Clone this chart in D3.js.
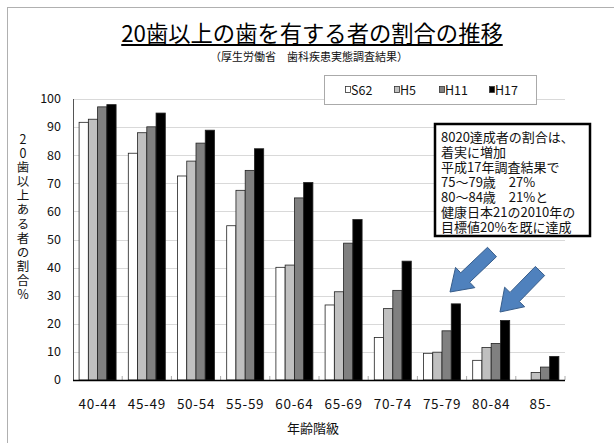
<!DOCTYPE html>
<html><head><meta charset="utf-8">
<script src="https://cdn.jsdelivr.net/npm/d3@7"></script>
<style>
body{margin:0;background:#fff;}
svg{display:block;font-family:"Noto Sans CJK JP","Noto Sans",sans-serif;}
</style></head>
<body><svg id="c" width="614" height="443"></svg>
<script>
const categories = ["40-44","45-49","50-54","55-59","60-64","65-69","70-74","75-79","80-84","85-"];
const seriesNames = ["S62","H5","H11","H17"];
const seriesColors = ["#ffffff","#c0c0c0","#808080","#000000"];
const S62 = [91.7, 80.7, 72.6, 54.9, 40.1, 26.7, 15.1, 9.5, 7.0, null];
const H5  = [92.8, 88.0, 77.9, 67.5, 40.9, 31.4, 25.4, 9.9, 11.6, 2.7];
const H11 = [97.2, 90.1, 84.3, 74.6, 64.8, 48.7, 31.9, 17.5, 13.0, 4.6];
const H17 = [98.0, 95.0, 88.9, 82.3, 70.3, 57.1, 42.3, 27.1, 21.2, 8.4];
const seriesValues = [S62, H5, H11, H17];
const yTicks = [0,10,20,30,40,50,60,70,80,90,100];
const titleText = "20歯以上の歯を有する者の割合の推移";
const subtitleText = "（厚生労働省　歯科疾患実態調査結果）";
const xTitle = "年齢階級";
const yTitle = "20歯以上ある者の割合%";
const noteLines = ["8020達成者の割合は、","着実に増加","平成17年調査結果で","75～79歳　27%","80～84歳　21%と","健康日本21の2010年の","目標値20%を既に達成"];

const svg = d3.select("#c");
const L = 73, R = 565, T = 99, B = 380;

// outer frame
svg.append("rect").attr("x",7.5).attr("y",7.5).attr("width",640).attr("height",480)
  .attr("fill","none").attr("stroke","#b0b0b0").attr("stroke-width",1);

const x = d3.scaleBand().domain(categories).range([L,R]).padding(0);
const groupW = 37;
const xi = d3.scaleBand().domain(seriesNames)
  .range([(x.bandwidth()-groupW)/2, (x.bandwidth()+groupW)/2]).padding(0);
const y = d3.scaleLinear().domain([0,100]).range([B,T]);

// gridlines
svg.append("g").selectAll("line").data(yTicks.filter(d=>d>0)).join("line")
  .attr("x1",L).attr("x2",R).attr("y1",d=>Math.round(y(d))+0.5).attr("y2",d=>Math.round(y(d))+0.5)
  .attr("stroke","#d9d9d9").attr("stroke-width",1);

// bars
const bars = [];
categories.forEach((c,ci)=>{
  seriesNames.forEach((s,si)=>{
    const v = seriesValues[si][ci];
    if (v!=null) bars.push({c,s,si,v});
  });
});
svg.append("g").selectAll("rect").data(bars).join("rect")
  .attr("x",d=>x(d.c)+xi(d.s))
  .attr("y",d=>y(d.v))
  .attr("width",xi.bandwidth())
  .attr("height",d=>B-y(d.v))
  .attr("fill",d=>seriesColors[d.si])
  .attr("stroke","#222").attr("stroke-width",0.8);

// category boundary ticks
svg.append("g").selectAll("line").data(categories.slice(1).concat(["__end"])).join("line")
  .attr("x1",d=>d==="__end"?R:x(d)).attr("x2",d=>d==="__end"?R:x(d))
  .attr("y1",B-4).attr("y2",B).attr("stroke","#aaa");

// axes
svg.append("line").attr("x1",L+0.5).attr("x2",L+0.5).attr("y1",T).attr("y2",B)
  .attr("stroke","#555").attr("stroke-width",1);
svg.append("line").attr("x1",L).attr("x2",R).attr("y1",B+0.5).attr("y2",B+0.5)
  .attr("stroke","#000").attr("stroke-width",1.5);

// y tick labels
svg.append("g").selectAll("text").data(yTicks).join("text")
  .attr("x",61).attr("y",d=>y(d)).attr("dy","0.35em")
  .attr("text-anchor","end").attr("font-size",12.5).attr("fill","#111").text(d=>d);

// x tick labels
svg.append("g").selectAll("text").data(categories).join("text")
  .attr("x",d=>x(d)+x.bandwidth()/2).attr("y",404).attr("dy","0.35em")
  .attr("text-anchor","middle").attr("font-size",13.5).attr("letter-spacing",0.7)
  .attr("fill","#111").text(d=>d);

// x title
svg.append("text").attr("x",313).attr("y",428).attr("dy","0.35em")
  .attr("text-anchor","middle").attr("font-size",13).attr("fill","#111").text(xTitle);

// y title (vertical writing)
svg.append("text").attr("x",23).attr("y",133)
  .style("writing-mode","vertical-rl").style("text-orientation","upright")
  .attr("font-size",12.5).attr("letter-spacing",1.6).attr("fill","#111").text(yTitle);

// title
const tt = svg.append("text").attr("x",312).attr("y",42)
  .attr("text-anchor","middle").attr("font-size",22.3).attr("fill","#000").text(titleText);
const tb = tt.node().getBBox();
svg.append("line").attr("x1",tb.x).attr("x2",tb.x+tb.width).attr("y1",45).attr("y2",45)
  .attr("stroke","#000").attr("stroke-width",2);
svg.append("text").attr("x",309).attr("y",57).attr("dy","0.35em")
  .attr("text-anchor","middle").attr("font-size",11).attr("fill","#111").text(subtitleText);

// legend
svg.append("rect").attr("x",324.5).attr("y",75.5).attr("width",212).attr("height",29)
  .attr("fill","#fff").attr("stroke","#aaa");
const legX = [345,394,439,489];
const lg = svg.append("g").selectAll("g").data(seriesNames).join("g")
  .attr("transform",(d,i)=>`translate(${legX[i]},91)`);
lg.append("rect").attr("x",0.5).attr("y",-4.5).attr("width",5).attr("height",6)
  .attr("fill",(d,i)=>seriesColors[i]).attr("stroke","#333").attr("stroke-width",0.8);
lg.append("text").attr("x",6).attr("y",0).attr("dy","0.35em").attr("font-size",12.5)
  .attr("fill","#111").text(d=>d);

// annotation box
svg.append("rect").attr("x",435).attr("y",124).attr("width",155).attr("height",112)
  .attr("fill","#fff").attr("stroke","#000").attr("stroke-width",2.5);
const note = svg.append("text").attr("x",441).attr("y",141.5)
  .attr("font-size",13).attr("fill","#111");
note.selectAll("tspan").data(noteLines).join("tspan")
  .attr("x",441).attr("dy",(d,i)=>i===0?0:15).text(d=>d);

// arrows
function blockArrow(tail, tip){
  const dx = tip[0]-tail[0], dy = tip[1]-tail[1];
  const len = Math.hypot(dx,dy);
  const ux = dx/len, uy = dy/len, px = -uy, py = ux;
  const sw = 6.5, hw = 14, hl = 21;
  const bx = tip[0]-ux*hl, by = tip[1]-uy*hl;
  const pts = [
    [tail[0]+px*sw, tail[1]+py*sw],
    [bx+px*sw, by+py*sw],
    [bx+px*hw, by+py*hw],
    tip,
    [bx-px*hw, by-py*hw],
    [bx-px*sw, by-py*sw],
    [tail[0]-px*sw, tail[1]-py*sw]
  ];
  svg.append("path").attr("d","M"+pts.map(p=>p.join(",")).join("L")+"Z")
    .attr("fill","#4f81bd").attr("stroke","#385d8a").attr("stroke-width",1);
}
blockArrow([492,252],[450,292]);
blockArrow([540,271],[500,312]);
</script></body></html>
